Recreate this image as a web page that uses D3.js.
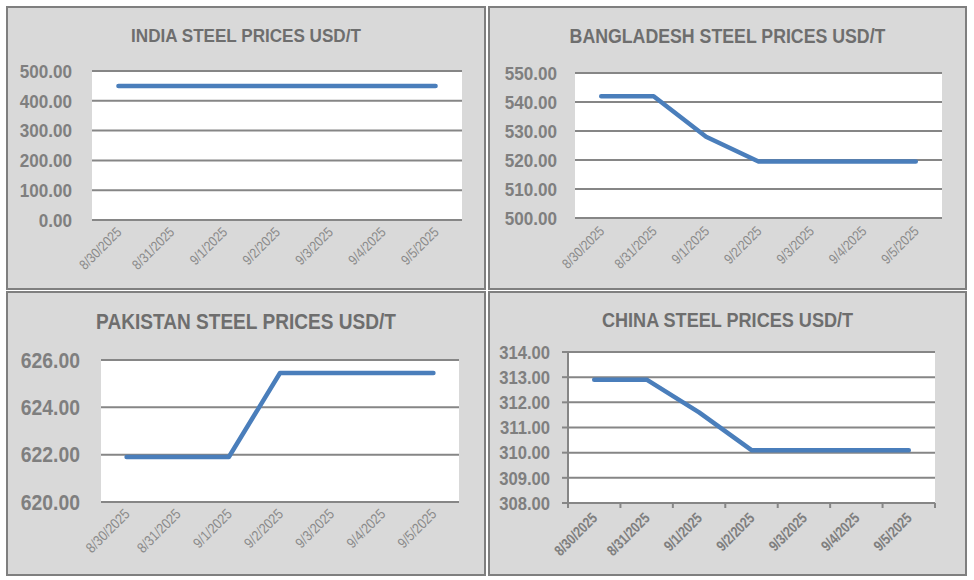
<!DOCTYPE html>
<html><head><meta charset="utf-8">
<script src="https://cdn.jsdelivr.net/npm/d3@7"></script>
<style>
html,body{margin:0;padding:0;background:#fff;}
svg{display:block;}
text{font-family:"Liberation Sans Narrow","Arial Narrow","Liberation Sans",Arial,sans-serif;}
</style></head>
<body>
<svg id="c" width="974" height="580"></svg>
<script>
const dates = ["8/30/2025","8/31/2025","9/1/2025","9/2/2025","9/3/2025","9/4/2025","9/5/2025"];
const indiaValues = [450, 450, 450, 450, 450, 450, 450];
const bangladeshValues = [542, 542, 528, 519.5, 519.5, 519.5, 519.5];
const pakistanValues = [621.9, 621.9, 621.9, 625.45, 625.45, 625.45, 625.45];
const chinaValues = [312.9, 312.9, 311.6, 310.1, 310.1, 310.1, 310.1];
const indiaTicks = [0, 100, 200, 300, 400, 500];
const bangladeshTicks = [500, 510, 520, 530, 540, 550];
const pakistanTicks = [620, 622, 624, 626];
const chinaTicks = [308, 309, 310, 311, 312, 313, 314];
const titles = ["INDIA STEEL PRICES USD/T","BANGLADESH STEEL PRICES USD/T","PAKISTAN STEEL PRICES USD/T","CHINA STEEL PRICES USD/T"];

const SX = 0.9; // horizontal condensing to mimic a narrow face

const panels = [
  {title:titles[0], values:indiaValues, ticks:indiaTicks, titleSize:19,
   box:[7,7,478,282], plot:[92,71,462,220], titleY:41.5, ylab:{size:19, gap:20}, xlab:{size:14, bold:false, sx:0.85, dx:4, dy:13}, axis:false},
  {title:titles[1], values:bangladeshValues, ticks:bangladeshTicks, titleSize:19.7,
   box:[489,7,477,282], plot:[575,73,942,218], titleY:42.5, ylab:{size:19, gap:18}, xlab:{size:14, bold:false, sx:0.85, dx:4, dy:14}, axis:false},
  {title:titles[2], values:pakistanValues, ticks:pakistanTicks, titleSize:21.2,
   box:[7,292,478,283], plot:[101,360,459,502], titleY:329, ylab:{size:21.5, gap:21}, xlab:{size:14.5, bold:false, sx:0.85, dx:4, dy:13}, axis:false},
  {title:titles[3], values:chinaValues, ticks:chinaTicks, titleSize:20.1,
   box:[489,292,477,283], plot:[568,352,935,503], titleY:326.5, ylab:{size:18.5, gap:18}, xlab:{size:15, bold:true, sx:0.8, dx:4, dy:16}, axis:true}
];

const svg = d3.select("#c");

panels.forEach(p => {
  const g = svg.append("g");
  const [bx,by,bw,bh] = p.box;
  g.append("rect").attr("x",bx).attr("y",by).attr("width",bw).attr("height",bh)
    .attr("fill","#d9d9d9").attr("stroke","#7f7f7f").attr("stroke-width",2);
  const [x0,y0,x1,y1] = p.plot;
  g.append("rect").attr("x",x0).attr("y",y0).attr("width",x1-x0).attr("height",y1-y0).attr("fill","#fff");

  const x = d3.scaleBand().domain(dates).range([x0,x1]);
  const y = d3.scaleLinear().domain(d3.extent(p.ticks)).range([y1,y0]);

  // title
  g.append("text").attr("transform",`translate(${bx+bw/2},${p.titleY}) scale(${SX},1)`).attr("text-anchor","middle")
    .attr("font-size",p.titleSize).attr("font-weight","bold").attr("fill","#6e6e6e").text(p.title);

  // gridlines
  g.selectAll("line.grid").data(p.ticks).join("line").attr("class","grid")
    .attr("x1",x0).attr("x2",x1).attr("y1",d=>y(d)).attr("y2",d=>y(d))
    .attr("stroke","#868686").attr("stroke-width",2);

  // y labels
  g.selectAll("text.yl").data(p.ticks).join("text").attr("class","yl")
    .attr("transform",d=>`translate(${x0-p.ylab.gap},${y(d)}) scale(${SX},1)`)
    .attr("dy","0.36em").attr("text-anchor","end")
    .attr("font-size",p.ylab.size).attr("font-weight","bold").attr("fill","#7f7f7f")
    .text(d=>d3.format(".2f")(d));

  if (p.axis) {
    g.append("line").attr("x1",x0).attr("x2",x0).attr("y1",y0).attr("y2",y1+1)
      .attr("stroke","#868686").attr("stroke-width",2);
    g.selectAll("line.yt").data(p.ticks).join("line").attr("class","yt")
      .attr("x1",x0-6).attr("x2",x0).attr("y1",d=>y(d)).attr("y2",d=>y(d))
      .attr("stroke","#868686").attr("stroke-width",2);
    const bounds = dates.map(d=>x(d)).concat([x1]);
    g.selectAll("line.xt").data(bounds).join("line").attr("class","xt")
      .attr("x1",d=>d).attr("x2",d=>d).attr("y1",y1).attr("y2",y1+5)
      .attr("stroke","#868686").attr("stroke-width",2);
  }

  // x labels
  g.selectAll("text.xl").data(dates).join("text").attr("class","xl")
    .attr("transform",d=>`translate(${x(d)+x.bandwidth()/2+p.xlab.dx},${y1+p.xlab.dy}) rotate(-45) scale(${p.xlab.sx},1)`)
    .attr("text-anchor","end")
    .attr("font-size",p.xlab.size).attr("font-weight",p.xlab.bold?"bold":"normal")
    .attr("fill",p.xlab.bold?"#7f7f7f":"#8a8a8a").text(d=>d);

  // line
  const line = d3.line().x((d,i)=>x(dates[i])+x.bandwidth()/2).y(d=>y(d));
  g.append("path").datum(p.values).attr("d",line).attr("fill","none")
    .attr("stroke","#4a7ebb").attr("stroke-width",4.5).attr("stroke-linecap","round").attr("stroke-linejoin","round");
});
</script>
</body></html>
